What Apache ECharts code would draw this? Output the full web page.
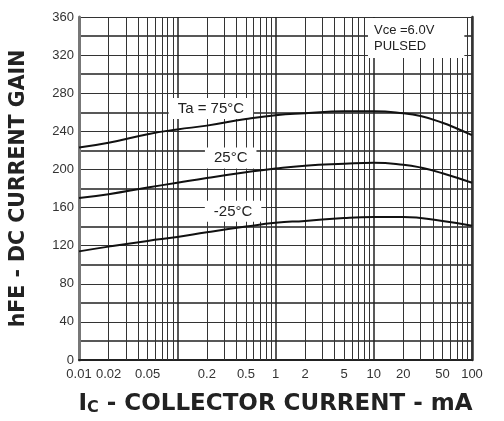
<!DOCTYPE html>
<html>
<head>
<meta charset="utf-8">
<script src="https://cdn.jsdelivr.net/npm/echarts@6/dist/echarts.min.js"></script>
<style>html,body{margin:0;padding:0;background:#fff;}#c{width:504px;height:421px;}</style>
</head>
<body>
<div id="c"></div>
<script>
// ---- data ----
const tickValues = [0.01, 0.02, 0.05, 0.2, 0.5, 1, 2, 5, 10, 20, 50, 100];
const tickLabels = ['0.01', '0.02', '0.05', '0.2', '0.5', '1', '2', '5', '10', '20', '50', '100'];
const yTicks = [0, 40, 80, 120, 160, 200, 240, 280, 320, 360];

const current75 = [0.01, 0.02, 0.05, 0.1, 0.2, 0.5, 1, 2, 5, 10, 20, 30, 50, 70, 100];
const gain75    = [223, 228, 237, 242, 246, 253, 257, 259, 261, 261, 259, 256, 249, 243, 236];

const current25 = [0.01, 0.02, 0.05, 0.1, 0.2, 0.5, 1, 2, 5, 10, 20, 30, 50, 100];
const gain25    = [170, 174, 181, 186, 191, 197, 201, 204, 206, 207, 205, 202, 196, 186];

const currentM25 = [0.01, 0.02, 0.05, 0.1, 0.2, 0.5, 1, 2, 5, 10, 20, 50, 100];
const gainM25    = [114, 119, 125, 129, 134, 140, 144, 146, 149, 150, 150, 146, 141];

const curveNames = ['Ta = 75°C', '25°C', '-25°C'];
const labelAnchorX = [0.22, 0.35, 0.37];
const labelAnchorY = [264, 212, 156];

// minor log grid positions (2..9 within each decade)
const minorGridX = [];
[0.01, 0.1, 1, 10].forEach(d => { for (let k = 2; k <= 9; k++) minorGridX.push(+(d * k).toPrecision(6)); });

function pairs(xs, ys) { return xs.map((x, i) => [x, ys[i]]); }

const chart = echarts.init(document.getElementById('c'), null, {renderer: 'canvas'});
const fontFam = '"Liberation Sans", Arial, sans-serif';
const titleFam = '"DejaVu Sans", sans-serif';

function curveSeries(idx, xs, ys) {
  return {
    type: 'line',
    data: pairs(xs, ys),
    smooth: true,
    symbol: 'none',
    lineStyle: {color: '#111', width: 2},
    z: 5,
    markPoint: {
      symbol: 'rect', symbolSize: 0, silent: true,
      data: [{coord: [labelAnchorX[idx], labelAnchorY[idx]], value: curveNames[idx]}],
      label: {
        show: true, position: 'inside', formatter: curveNames[idx],
        color: '#222', fontSize: 15, fontFamily: fontFam,
        backgroundColor: '#fff', padding: [3, 9, 3, 9]
      }
    }
  };
}

const option = {
  animation: false,
  backgroundColor: '#fff',
  grid: {left: 77, right: 32, top: 17, bottom: 51, containLabel: false},
  xAxis: {
    type: 'log', logBase: 10, min: 0.01, max: 100,
    name: '{big|I}{small|C}{big| - COLLECTOR CURRENT - mA}',
    nameLocation: 'middle', nameGap: 33,
    nameTextStyle: {
      rich: {
        big: {fontSize: 23, fontWeight: 'bold', color: '#222', fontFamily: titleFam},
        small: {fontSize: 16, fontWeight: 'bold', color: '#222', fontFamily: titleFam, verticalAlign: 'bottom', padding: [6, 0, 0, 0]}
      }
    },
    axisLine: {show: true, lineStyle: {color: '#222', width: 2}},
    axisTick: {show: false},
    axisLabel: {
      customValues: tickValues,
      color: '#333', fontSize: 13, fontFamily: fontFam, margin: 8,
      formatter: function (v) {
        for (let i = 0; i < tickValues.length; i++) {
          if (Math.abs(Math.log10(v) - Math.log10(tickValues[i])) < 1e-6) return tickLabels[i];
        }
        return '';
      }
    },
    splitLine: {show: true, lineStyle: {color: '#222', width: 1.5}}
  },
  yAxis: [{
    type: 'value', min: 0, max: 360, interval: 40,
    name: 'hFE - DC CURRENT GAIN', nameLocation: 'middle', nameGap: 50,
    nameTextStyle: {fontSize: 20.5, fontWeight: 'bold', color: '#222', fontFamily: titleFam},
    axisLine: {show: true, lineStyle: {color: '#777', width: 3}},
    axisTick: {show: false},
    axisLabel: {color: '#333', fontSize: 13, fontFamily: fontFam, margin: 5},
    splitLine: {show: true, lineStyle: {color: '#333', width: 1.2}},
    minorTick: {show: false, splitNumber: 2},
    minorSplitLine: {show: true, lineStyle: {color: '#222', width: 1.5}}
  }, {
    type: 'value', min: 0, max: 360, interval: 40, position: 'right',
    axisLine: {show: true, lineStyle: {color: '#333', width: 2.5}},
    axisTick: {show: false}, axisLabel: {show: false}, splitLine: {show: false}
  }],
  series: [
    {
      type: 'line', data: [], symbol: 'none', silent: true, z: 1,
      markLine: {
        silent: true, symbol: 'none', label: {show: false},
        lineStyle: {color: '#333', width: 1, type: 'solid'},
        data: minorGridX.map(v => ({xAxis: v}))
      }
    },
    curveSeries(0, current75, gain75),
    curveSeries(1, current25, gain25),
    curveSeries(2, currentM25, gainM25)
  ],
  graphic: [{
    type: 'text', left: 368, top: 18, z: 100,
    style: {
      text: 'Vce =6.0V\nPULSED', fill: '#222', fontSize: 13, fontFamily: fontFam,
      lineHeight: 16, backgroundColor: '#fff', padding: [4, 30, 4, 6]
    }
  }]
};
chart.setOption(option);
</script>
</body>
</html>
